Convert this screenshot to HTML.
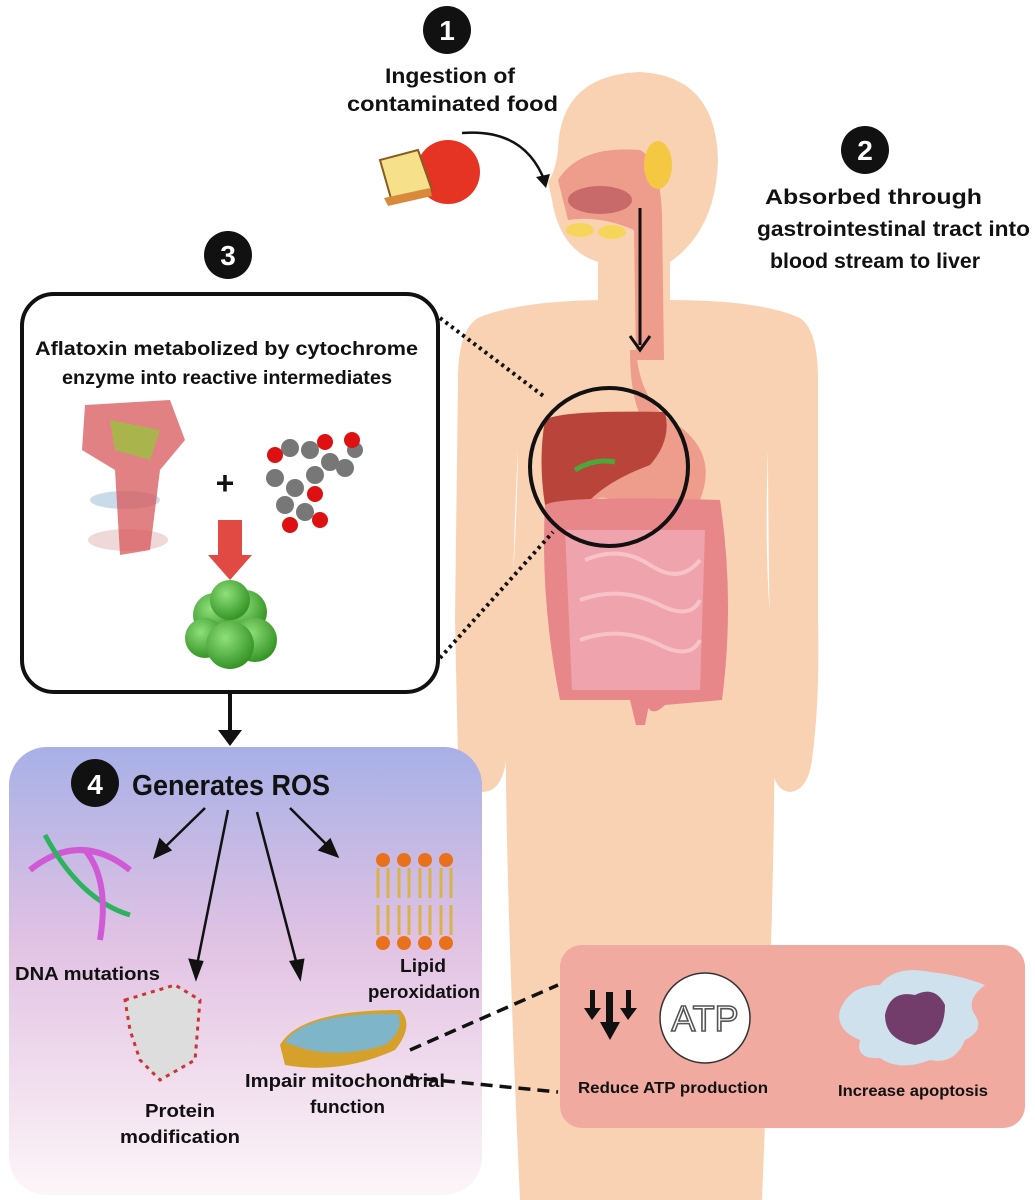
<!DOCTYPE html>
<html><head><meta charset="utf-8"><style>
html,body{margin:0;padding:0;background:#fff;}
svg{display:block;}
text{font-family:"Liberation Sans",sans-serif;font-weight:bold;fill:#111;}
</style></head><body>
<svg width="1035" height="1200" viewBox="0 0 1035 1200" xmlns="http://www.w3.org/2000/svg">
<defs>
<linearGradient id="g4" x1="0" y1="0" x2="0" y2="1">
<stop offset="0" stop-color="#a8b0e6"/><stop offset="0.45" stop-color="#e2c3e3"/><stop offset="1" stop-color="#fdf6f8"/>
</linearGradient>
<radialGradient id="gg" cx="0.4" cy="0.35" r="0.7"><stop offset="0" stop-color="#8fe07a"/><stop offset="1" stop-color="#2f8f1f"/></radialGradient>
</defs>
<!-- body -->
<path fill="#f9d2b3" d="M612 300 L598 300 L598 262 Q560 250 552 200 L548 182 Q556 170 558 150 Q560 75 640 72 Q716 76 718 160 Q716 230 670 262 L670 300
Q760 300 800 318 Q818 330 818 380 L818 620 Q820 700 812 760 Q808 790 790 792 Q772 790 772 760 L770 640 Q768 520 768 450 Q764 560 772 640 Q780 760 762 1200 L520 1200 Q500 760 508 640 Q516 560 518 450 Q514 520 512 640 L506 760 Q502 792 482 792 Q460 790 458 760 L455 620 L458 380 Q458 330 478 318 Q520 300 612 300 Z"/>
<!-- head cavity -->
<path fill="#ee9c8c" d="M558 180 Q580 145 640 150 Q660 160 662 215 L664 360 L636 360 L634 230 Q600 215 568 220 Z"/>
<ellipse cx="600" cy="200" rx="32" ry="14" fill="#c96a6a"/>
<ellipse cx="658" cy="165" rx="14" ry="24" fill="#f5c842"/>
<ellipse cx="580" cy="230" rx="14" ry="7" fill="#f5d65a"/><ellipse cx="612" cy="232" rx="14" ry="7" fill="#f5d65a"/>
<!-- stomach -->
<path fill="#ee9c8c" d="M636 350 Q640 400 670 420 Q720 450 700 500 Q680 520 620 505 Q600 490 590 505 L580 500 Q590 470 620 470 Q660 470 650 430 Q630 410 630 350 Z"/>
<!-- liver -->
<path fill="#b8443a" d="M545 420 Q560 410 665 412 Q672 440 650 465 Q610 480 590 500 L545 505 Q538 460 545 420 Z"/>
<!-- intestines -->
<path fill="#e8878a" d="M545 505 Q560 495 720 500 Q735 600 722 700 L665 705 Q650 720 645 700 L560 700 Q540 600 545 505 Z"/>
<path fill="#eea3ad" d="M565 530 L705 530 L700 690 L572 690 Z"/>
<path fill="#e8878a" d="M630 700 L650 700 L645 725 L636 725 Z"/>
<path d="M585 560 Q620 545 650 565 Q680 585 700 560 M580 600 Q620 585 660 605 Q690 620 700 600 M580 640 Q620 625 660 645 Q690 660 700 640" stroke="#f7c3c8" stroke-width="4" fill="none"/>
<path d="M575 470 Q595 458 615 462" stroke="#4aa83a" stroke-width="5" fill="none"/>
<!-- esophagus arrow -->
<line x1="640" y1="208" x2="640" y2="345" stroke="#111" stroke-width="3"/>
<path d="M630 336 L640 350 L650 336" stroke="#111" stroke-width="3" fill="none"/>
<!-- liver circle -->
<circle cx="609" cy="467" r="79" fill="none" stroke="#111" stroke-width="4"/>
<!-- dotted lines -->
<line x1="440" y1="318" x2="546" y2="398" stroke="#111" stroke-width="4" stroke-dasharray="3 4"/>
<line x1="440" y1="658" x2="553" y2="532" stroke="#111" stroke-width="4" stroke-dasharray="3 4"/>
<!-- step 1 -->
<circle cx="447" cy="30" r="24" fill="#111"/><text x="447" y="40" font-size="28" text-anchor="middle" style="fill:#fff">1</text>
<text x="385" y="83" font-size="21" textLength="130" lengthAdjust="spacingAndGlyphs">Ingestion of</text>
<text x="347" y="111" font-size="21" textLength="211" lengthAdjust="spacingAndGlyphs">contaminated food</text>
<path d="M462 133 Q525 128 545 182" stroke="#111" stroke-width="2.5" fill="none"/>
<path d="M536 177 L546 188 L550 174" fill="#111"/>
<circle cx="448" cy="172" r="32" fill="#e53424"/>
<path d="M380 160 L418 150 L432 190 L392 202 Z" fill="#f6e08a" stroke="#8a5a20" stroke-width="2"/>
<path d="M384 198 L430 188 L432 196 L388 206 Z" fill="#d88a3a"/>
<!-- step 2 -->
<circle cx="865" cy="150" r="24" fill="#111"/><text x="865" y="160" font-size="28" text-anchor="middle" style="fill:#fff">2</text>
<text x="765" y="204" font-size="21" textLength="217" lengthAdjust="spacingAndGlyphs">Absorbed through</text>
<text x="757" y="236" font-size="21" textLength="273" lengthAdjust="spacingAndGlyphs">gastrointestinal tract into</text>
<text x="770" y="268" font-size="21" textLength="210" lengthAdjust="spacingAndGlyphs">blood stream to liver</text>
<!-- step 3 -->
<circle cx="228" cy="255" r="24" fill="#111"/><text x="228" y="265" font-size="28" text-anchor="middle" style="fill:#fff">3</text>
<rect x="22" y="294" width="416" height="398" rx="32" fill="#fff" stroke="#111" stroke-width="4"/>
<text x="35" y="355" font-size="19" textLength="383" lengthAdjust="spacingAndGlyphs">Aflatoxin metabolized by cytochrome</text>
<text x="62" y="384" font-size="19" textLength="330" lengthAdjust="spacingAndGlyphs">enzyme into reactive intermediates</text>
<ellipse cx="125" cy="500" rx="35" ry="9" fill="#c9dbe8"/><ellipse cx="128" cy="540" rx="40" ry="11" fill="#efd8d8"/>
<path d="M85 405 L170 400 L185 440 L160 470 L150 550 L120 555 L115 470 L82 450 Z" fill="#d8575a" opacity="0.75"/>
<path d="M110 420 L160 430 L150 460 L115 450 Z" fill="#9cc040" opacity="0.8"/>
<text x="225" y="494" font-size="32" text-anchor="middle">+</text>
<g fill="#777"><circle cx="290" cy="448" r="9"/><circle cx="310" cy="450" r="9"/><circle cx="330" cy="462" r="9"/><circle cx="315" cy="475" r="9"/><circle cx="295" cy="488" r="9"/><circle cx="275" cy="478" r="9"/><circle cx="285" cy="505" r="9"/><circle cx="305" cy="512" r="9"/><circle cx="345" cy="468" r="9"/><circle cx="355" cy="450" r="8"/></g>
<g fill="#d11"><circle cx="275" cy="455" r="8"/><circle cx="325" cy="442" r="8"/><circle cx="352" cy="440" r="8"/><circle cx="315" cy="494" r="8"/><circle cx="290" cy="525" r="8"/><circle cx="320" cy="520" r="8"/></g>
<path d="M218 520 L242 520 L242 555 L252 555 L230 580 L208 555 L218 555 Z" fill="#e04a42"/>
<g fill="url(#gg)"><circle cx="215" cy="615" r="22"/><circle cx="245" cy="612" r="22"/><circle cx="230" cy="600" r="20"/><circle cx="205" cy="638" r="20"/><circle cx="255" cy="640" r="22"/><circle cx="230" cy="645" r="24"/></g>
<line x1="230" y1="692" x2="230" y2="732" stroke="#111" stroke-width="4"/>
<path d="M218 730 L230 746 L242 730 Z" fill="#111"/>
<!-- step 4 -->
<rect x="9" y="747" width="473" height="448" rx="38" fill="url(#g4)"/>
<circle cx="95" cy="783" r="24" fill="#111"/><text x="95" y="794" font-size="28" text-anchor="middle" style="fill:#fff">4</text>
<text x="132" y="795" font-size="29" textLength="198" lengthAdjust="spacingAndGlyphs">Generates ROS</text>
<g stroke="#111" stroke-width="2.5" fill="#111">
<line x1="205" y1="808" x2="162" y2="850"/><path d="M155 857 L160 840 L170 850 Z"/>
<line x1="228" y1="810" x2="197" y2="965"/><path d="M196 978 L190 960 L202 962 Z"/>
<line x1="257" y1="812" x2="297" y2="965"/><path d="M300 978 L291 962 L303 960 Z"/>
<line x1="290" y1="808" x2="330" y2="848"/><path d="M337 856 L320 850 L330 840 Z"/>
</g>
<path d="M30 870 Q80 830 130 870" stroke="#d05ad5" stroke-width="6" fill="none"/>
<path d="M45 835 Q80 900 130 915" stroke="#2cb35e" stroke-width="5" fill="none"/>
<path d="M85 850 Q110 880 100 940" stroke="#d05ad5" stroke-width="6" fill="none"/>
<text x="15" y="980" font-size="18" textLength="145" lengthAdjust="spacingAndGlyphs">DNA mutations</text>
<g fill="#e8721c"><circle cx="383" cy="860" r="7"/><circle cx="404" cy="860" r="7"/><circle cx="425" cy="860" r="7"/><circle cx="446" cy="860" r="7"/><circle cx="383" cy="943" r="7"/><circle cx="404" cy="943" r="7"/><circle cx="425" cy="943" r="7"/><circle cx="446" cy="943" r="7"/></g>
<g stroke="#d9b24a" stroke-width="3" fill="none"><path d="M378 868 L378 898 M388 868 L388 898 M399 868 L399 898 M409 868 L409 898 M420 868 L420 898 M430 868 L430 898 M441 868 L441 898 M451 868 L451 898 M378 905 L378 935 M388 905 L388 935 M399 905 L399 935 M409 905 L409 935 M420 905 L420 935 M430 905 L430 935 M441 905 L441 935 M451 905 L451 935"/></g>
<text x="400" y="972" font-size="18" textLength="46" lengthAdjust="spacingAndGlyphs">Lipid</text>
<text x="368" y="998" font-size="18" textLength="112" lengthAdjust="spacingAndGlyphs">peroxidation</text>
<path d="M125 1000 L175 985 L200 1000 L195 1060 L160 1080 L140 1060 L130 1030 Z" fill="#ddd" stroke="#c33" stroke-width="3" stroke-dasharray="4 5"/>
<text x="145" y="1117" font-size="18" textLength="70" lengthAdjust="spacingAndGlyphs">Protein</text>
<text x="120" y="1143" font-size="18" textLength="120" lengthAdjust="spacingAndGlyphs">modification</text>
<path d="M280 1045 Q300 1010 400 1010 Q415 1025 395 1050 Q340 1075 285 1065 Z" fill="#d6a12a"/>
<path d="M285 1042 Q305 1012 398 1014 Q405 1030 385 1045 Q330 1062 285 1042 Z" fill="#7fb5c8"/>
<text x="245" y="1087" font-size="18" textLength="200" lengthAdjust="spacingAndGlyphs">Impair mitochondrial</text>
<text x="310" y="1113" font-size="18" textLength="75" lengthAdjust="spacingAndGlyphs">function</text>
<!-- dashed -->
<line x1="410" y1="1050" x2="558" y2="985" stroke="#111" stroke-width="3.5" stroke-dasharray="12 7"/>
<line x1="405" y1="1077" x2="558" y2="1092" stroke="#111" stroke-width="3.5" stroke-dasharray="12 7"/>
<!-- red box -->
<rect x="560" y="945" width="465" height="183" rx="22" fill="#f0aaa0"/>
<g fill="#111"><rect x="590" y="990" width="5" height="20"/><path d="M584 1008 L601 1008 L592 1020 Z"/><rect x="626" y="990" width="5" height="20"/><path d="M620 1008 L637 1008 L628 1020 Z"/><rect x="606" y="992" width="7" height="32"/><path d="M600 1022 L620 1022 L610 1040 Z"/></g>
<circle cx="705" cy="1018" r="45" fill="#fff" stroke="#333" stroke-width="1.5"/>
<text x="705" y="1031" font-size="36" text-anchor="middle" style="fill:#fff;stroke:#555;stroke-width:1.6;font-weight:normal">ATP</text>
<path d="M840 1010 Q850 985 880 985 Q895 965 930 972 Q960 975 985 985 Q965 1000 975 1015 Q985 1030 965 1040 Q955 1065 930 1060 Q900 1072 880 1058 Q855 1060 860 1040 Q835 1030 840 1010 Z" fill="#d0e1ee"/>
<path d="M885 1015 Q890 990 915 995 Q935 985 945 1005 Q945 1040 915 1045 Q885 1040 885 1015 Z" fill="#723d6b"/>
<text x="578" y="1093" font-size="15.5" textLength="190" lengthAdjust="spacingAndGlyphs">Reduce ATP production</text>
<text x="838" y="1096" font-size="15.5" textLength="150" lengthAdjust="spacingAndGlyphs">Increase apoptosis</text>
</svg>
</body></html>
